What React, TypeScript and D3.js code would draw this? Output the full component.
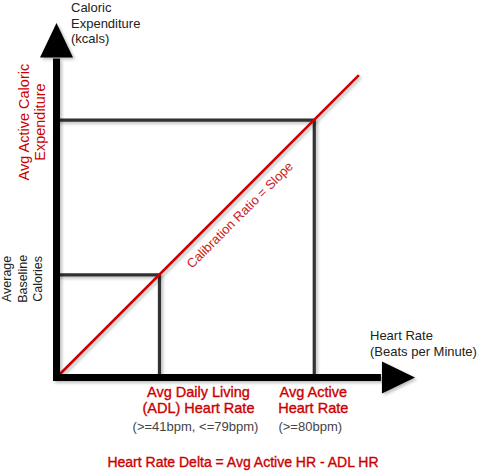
import React, { useRef, useEffect } from "react";
import * as d3 from "d3";

// conceptual units, both axes 0..100
const axisEnd = { x: 100, y: 98.5 };
const arrowLen = 9.6;
const adlHeartRate = 28.6;
const activeHeartRate = 71.6;
const baselineCalories = 28.5;
const activeCalories = 71.5;
const slopeLine: [number, number][] = [
  [0, 0],
  [84, 84],
];

const yTitle = ["Caloric", "Expenditure", "(kcals)"];
const xTitle = ["Heart Rate", "(Beats per Minute)"];
const activeCalLabel = ["Avg Active Caloric", "Expenditure"];
const baselineLabel = ["Average", "Baseline", "Calories"];
const adlLabel = ["Avg Daily Living", "(ADL) Heart Rate"];
const adlRange = "(>=41bpm, <=79bpm)";
const activeLabel = ["Avg Active", "Heart Rate"];
const activeRange = "(>=80bpm)";
const slopeLabel = "Calibration Ratio = Slope";
const deltaLabel = "Heart Rate Delta = Avg Active HR - ADL HR";

const RED = "#cc0000";
const FONT = "'Liberation Sans', Arial, sans-serif";

export default function App() {
  const chartRef = useRef<SVGSVGElement>(null);

  useEffect(() => {
    if (!chartRef.current) return;
    const svg = d3.select(chartRef.current);
    svg.selectAll("*").remove();

    const x = d3.scaleLinear().domain([0, 100]).range([56.5, 416.5]);
    const y = d3.scaleLinear().domain([0, 100]).range([377.5, 17.5]);

    const defs = svg.append("defs");
    const f = defs
      .append("filter")
      .attr("id", "shadow")
      .attr("x", "-20%")
      .attr("y", "-20%")
      .attr("width", "140%")
      .attr("height", "140%");
    f.append("feDropShadow")
      .attr("dx", 2)
      .attr("dy", 2)
      .attr("stdDeviation", 1.5)
      .attr("flood-color", "#000")
      .attr("flood-opacity", 0.25);

    const g = svg.append("g").attr("font-family", FONT);

    // guide lines
    const guides = g
      .append("g")
      .attr("stroke", "#333")
      .attr("stroke-width", 3.2)
      .attr("fill", "none")
      .attr("filter", "url(#shadow)");
    const guidePath = d3.line<[number, number]>()
      .x((d) => x(d[0]))
      .y((d) => y(d[1]));
    guides
      .append("path")
      .attr("d", guidePath([[0, baselineCalories], [adlHeartRate, baselineCalories], [adlHeartRate, 0]]));
    guides
      .append("path")
      .attr("d", guidePath([[0, activeCalories], [activeHeartRate, activeCalories], [activeHeartRate, 0]]));

    // calibration line
    g.append("path")
      .attr("d", guidePath(slopeLine))
      .attr("stroke", RED)
      .attr("stroke-width", 2.6)
      .attr("fill", "none")
      .attr("filter", "url(#shadow)");

    // axes
    const axes = g.append("g").attr("filter", "url(#shadow)");
    axes
      .append("line")
      .attr("x1", x(0))
      .attr("x2", x(0))
      .attr("y1", y(0) + 3.5)
      .attr("y2", y(axisEnd.y - arrowLen) + 1)
      .attr("stroke", "#000")
      .attr("stroke-width", 7);
    axes
      .append("path")
      .attr(
        "d",
        `M${x(0) - 16.5},${y(axisEnd.y - arrowLen)}L${x(0)},${y(axisEnd.y)}L${x(0) + 16.5},${y(axisEnd.y - arrowLen)}Z`
      )
      .attr("fill", "#000");
    axes
      .append("line")
      .attr("x1", x(0) - 3.5)
      .attr("x2", x(axisEnd.x - arrowLen) - 1)
      .attr("y1", y(0))
      .attr("y2", y(0))
      .attr("stroke", "#000")
      .attr("stroke-width", 7);
    axes
      .append("path")
      .attr(
        "d",
        `M${x(axisEnd.x - arrowLen)},${y(0) - 16}L${x(axisEnd.x) - 1.5},${y(0)}L${x(axisEnd.x - arrowLen)},${y(0) + 16}Z`
      )
      .attr("fill", "#000");

    // axis titles
    yTitle.forEach((t, i) =>
      g.append("text").attr("x", 71).attr("y", 12 + i * 15.5).attr("font-size", 13).attr("fill", "#222").text(t)
    );
    xTitle.forEach((t, i) =>
      g.append("text").attr("x", 370).attr("y", 340 + i * 15.5).attr("font-size", 13).attr("fill", "#222").text(t)
    );

    // rotated y-side labels
    activeCalLabel.forEach((t, i) =>
      g
        .append("text")
        .attr("transform", `translate(${29 + i * 15.5},${y(activeCalories) + 2}) rotate(-90)`)
        .attr("text-anchor", "middle")
        .attr("font-size", 14.5)
        .attr("fill", RED)
        .text(t)
    );
    baselineLabel.forEach((t, i) =>
      g
        .append("text")
        .attr("transform", `translate(${11 + i * 15.5},${y(baselineCalories) + 4}) rotate(-90)`)
        .attr("text-anchor", "middle")
        .attr("font-size", 12.5)
        .attr("fill", "#222")
        .text(t)
    );

    // x-side labels
    const bottomLabel = (cx: number, lines: string[], range: string) => {
      lines.forEach((t, i) =>
        g
          .append("text")
          .attr("x", cx)
          .attr("y", 397 + i * 15.5)
          .attr("text-anchor", "middle")
          .attr("font-size", 14.5)
          .attr("fill", RED)
          .attr("stroke", RED)
          .attr("stroke-width", 0.35)
          .text(t)
      );
      g.append("text")
        .attr("x", cx - 3)
        .attr("y", 431)
        .attr("text-anchor", "middle")
        .attr("font-size", 13)
        .attr("fill", "#444")
        .text(range);
    };
    bottomLabel(x(adlHeartRate) + 39, adlLabel, adlRange);
    bottomLabel(x(activeHeartRate) - 1, activeLabel, activeRange);

    // slope label
    g.append("text")
      .attr("transform", `translate(243,218) rotate(-45)`)
      .attr("text-anchor", "middle")
      .attr("font-size", 13)
      .attr("fill", "#cc2222")
      .text(slopeLabel);

    g.append("text")
      .attr("x", 243)
      .attr("y", 467)
      .attr("text-anchor", "middle")
      .attr("font-size", 14)
      .attr("fill", RED)
      .attr("stroke", RED)
      .attr("stroke-width", 0.35)
      .text(deltaLabel);
  }, []);

  return (
    <svg
      ref={chartRef}
      width={477}
      height={472}
      style={{ position: "absolute", left: 0, top: 0, background: "#fff" }}
    ></svg>
  );
}
